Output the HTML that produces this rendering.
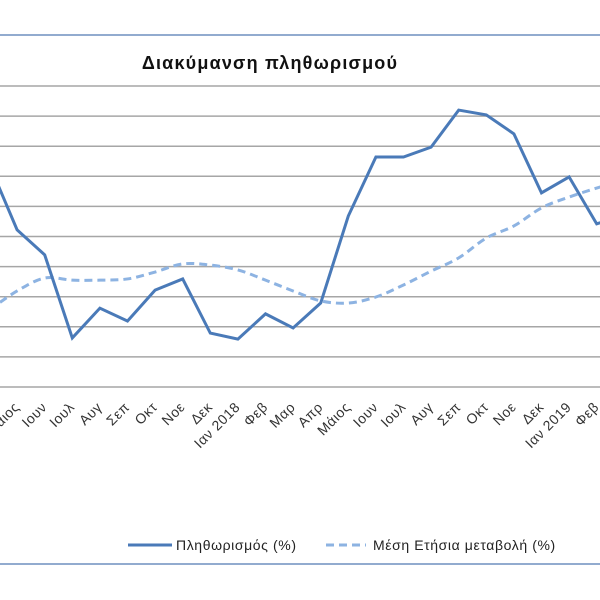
<!DOCTYPE html>
<html><head><meta charset="utf-8"><style>
html,body{margin:0;padding:0;background:#fff;}
svg{display:block;font-family:"Liberation Sans","DejaVu Sans",sans-serif;}
</style></head><body>
<svg id="chart" width="600" height="600" viewBox="0 0 600 600">
<line x1="0" y1="35" x2="600" y2="35" stroke="#6f8fbf" stroke-width="1.5"/>
<line x1="0" y1="564" x2="600" y2="564" stroke="#6f8fbf" stroke-width="1.5"/>
<text x="270" y="69" text-anchor="middle" font-size="18" font-weight="bold" letter-spacing="1.2" fill="#111">Διακύμανση  πληθωρισμού</text>
<g id="grid"></g>
<g id="xlabels"></g>
<g id="series"></g>
<g>
<line x1="128" y1="545" x2="172" y2="545" stroke="#4a7ab8" stroke-width="3"/>
<text x="176" y="550" font-size="14" letter-spacing="0.6" fill="#222">Πληθωρισμός (%)</text>
<line x1="326" y1="545" x2="366" y2="545" stroke="#8db3e2" stroke-width="3" stroke-dasharray="8,5"/>
<text x="373" y="550" font-size="14" letter-spacing="0.6" fill="#222">Μέση Ετήσια μεταβολή (%)</text>
</g>
</svg>
<script>
const categories = ["Απρ","Μάιος","Ιουν","Ιουλ","Αυγ","Σεπ","Οκτ","Νοε","Δεκ","Ιαν 2018","Φεβ","Μαρ","Απρ","Μάιος","Ιουν","Ιουλ","Αυγ","Σεπ","Οκτ","Νοε","Δεκ","Ιαν 2019","Φεβ","Μαρ"];
const inflation = [7.38,5.22,4.39,1.63,2.62,2.19,3.22,3.59,1.79,1.59,2.43,1.96,2.79,5.68,7.64,7.64,7.97,9.20,9.04,8.41,6.45,6.98,5.42,5.71];
const annualAverage = [2.56,3.19,3.62,3.55,3.55,3.59,3.82,4.09,4.05,3.89,3.55,3.19,2.86,2.79,2.99,3.39,3.85,4.29,4.95,5.35,5.95,6.31,6.61,6.88];
const gridTicks = [0,1,2,3,4,5,6,7,8,9,10];

const NS="http://www.w3.org/2000/svg";
const x0=-10.5, step=27.6, yBase=387, yUnit=30.1;
function xScale(i){return x0+i*step;}
function yScale(v){return yBase-v*yUnit;}
function mk(tag,attrs,parent){const e=document.createElementNS(NS,tag);for(const k in attrs)e.setAttribute(k,attrs[k]);parent.appendChild(e);return e;}

const grid=document.getElementById('grid');
gridTicks.forEach(t=>{
  const l=mk('line',{x1:0,x2:600,y1:yScale(t),y2:yScale(t),stroke:'#a6a6a6','stroke-width':1.5},grid);
  
  
});

const xl=document.getElementById('xlabels');
categories.forEach((c,i)=>{
  const x=xScale(i)+3, y=408;
  const t=mk('text',{x:x,y:y,'text-anchor':'end','font-size':14,'letter-spacing':0.5,fill:'#333',transform:`rotate(-45 ${x} ${y})`},xl);
  t.textContent=c;
  
  
});

const ser=document.getElementById('series');
const pts=annualAverage.map((v,i)=>[xScale(i),yScale(v)]);
let d=`M${pts[0][0]},${pts[0][1]}`;
for(let i=0;i<pts.length-1;i++){
  const p0=pts[Math.max(0,i-1)],p1=pts[i],p2=pts[i+1],p3=pts[Math.min(pts.length-1,i+2)];
  const c1=[p1[0]+(p2[0]-p0[0])/6,p1[1]+(p2[1]-p0[1])/6];
  const c2=[p2[0]-(p3[0]-p1[0])/6,p2[1]-(p3[1]-p1[1])/6];
  d+=` C${c1[0]},${c1[1]} ${c2[0]},${c2[1]} ${p2[0]},${p2[1]}`;
}
const dash=mk('path',{d:d,fill:'none',stroke:'#8db3e2','stroke-width':3,'stroke-dasharray':'8,5'},ser);



const solid=mk('polyline',{points:inflation.map((v,i)=>xScale(i)+','+yScale(v)).join(' '),fill:'none',stroke:'#4a7ab8','stroke-width':3,'stroke-linejoin':'miter'},ser);


</script>
</body></html>
